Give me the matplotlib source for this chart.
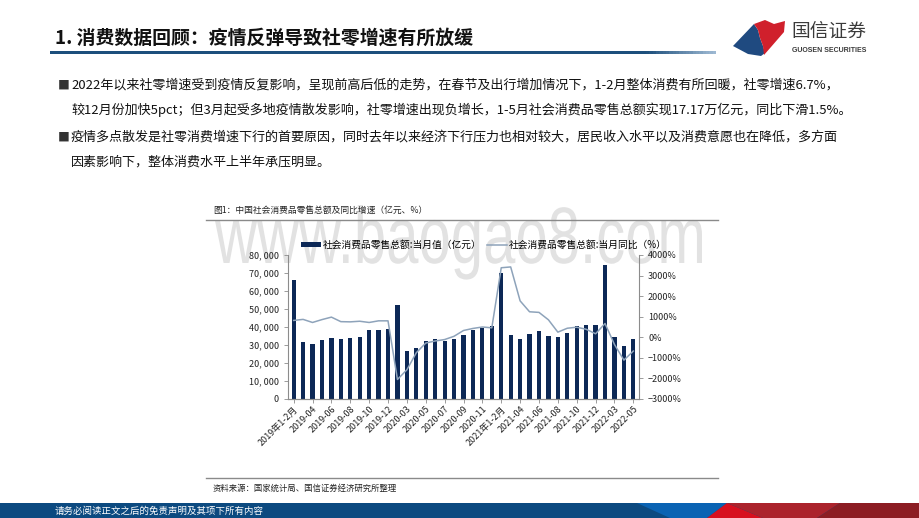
import numpy as np
import matplotlib
matplotlib.use('Agg')
import matplotlib.pyplot as plt
from matplotlib.patches import Polygon, Rectangle, PathPatch
from matplotlib.textpath import TextPath
from matplotlib.font_manager import FontProperties
from matplotlib.transforms import Affine2D
from matplotlib.ticker import FuncFormatter

plt.rcParams['font.family'] = ['Noto Sans CJK SC', 'DejaVu Sans']

# 月份（1-2月合并）
months = ['2019年1-2月'] + ['2019-%02d' % m for m in range(3, 13)] + \
         ['2020年1-2月'] + ['2020-%02d' % m for m in range(3, 13)] + \
         ['2021年1-2月'] + ['2021-%02d' % m for m in range(3, 13)] + \
         ['2022年1-2月', '2022-03', '2022-04', '2022-05']

# 社会消费品零售总额:当月值（亿元）
retail = [66064, 31726, 30586, 32956, 33878, 33073, 33896, 34495, 38104, 38094, 38777,
          52130, 26450, 28178, 31973, 33526, 32203, 33571, 35295, 38576, 39514, 40566,
          69737, 35484, 33153, 35945, 37586, 34925, 34395, 36833, 40454, 41043, 41269,
          74426, 34233, 29483, 33547]

# 社会消费品零售总额:当月同比（原图按 x100 的百分比刻度显示）
yoy = [8.2, 8.7, 7.2, 8.6, 9.8, 7.6, 7.5, 7.8, 7.2, 8.0, 8.0,
       -20.5, -15.8, -7.5, -2.8, -1.8, -1.1, 0.5, 3.3, 4.3, 5.0, 4.6,
       33.8, 34.2, 17.7, 12.4, 12.1, 8.5, 2.5, 4.4, 4.9, 3.9, 1.7,
       6.7, -3.5, -11.1, -6.7]

W, H = 920, 518
fig = plt.figure(figsize=(W / 100, H / 100), dpi=100)


def fx(x):
    return x / W


def fy(y):
    return 1 - y / H


# 标题 + 蓝色横线
fig.text(fx(55), fy(38), '1. 消费数据回顾：疫情反弹导致社零增速有所放缓',
         fontsize=13.6, fontweight='bold', color='#111111', va='center')
grad = np.linspace(0, 1, 200)[None, :]
gax = fig.add_axes([fx(50), fy(54), fx(716) - fx(50), 3.5 / H])
cmap = matplotlib.colors.LinearSegmentedColormap.from_list(
    'hdr', [(0, '#1d4f7c'), (0.9, '#1d4f7c'), (1.0, '#9db8d2')])
gax.imshow(grad, aspect='auto', cmap=cmap)
gax.axis('off')

# 国信证券 logo
blue = [(733, 46), (754, 24), (758, 30), (760, 38), (763, 46), (765, 53), (761, 56), (748, 54)]
red = [(754, 24), (765, 20), (774, 24), (785, 21), (784, 32), (771, 47), (764, 55),
       (763, 46), (760, 38), (758, 30)]
fig.add_artist(Polygon([(fx(a), fy(b)) for a, b in blue], closed=True,
                       transform=fig.transFigure, fc='#1f4a80', ec='none'))
fig.add_artist(Polygon([(fx(a), fy(b)) for a, b in red], closed=True,
                       transform=fig.transFigure, fc='#d0202c', ec='none'))
fig.text(fx(791), fy(31), '国信证券', fontsize=13.5, color='#3a3a3a', va='center')
fig.text(fx(792), fy(50), 'GUOSEN SECURITIES', fontsize=5, fontweight='bold',
         color='#3a3a3a', va='center', family=['Liberation Sans', 'DejaVu Sans'])

# 正文
body = [
    (85, True, '2022年以来社零增速受到疫情反复影响，呈现前高后低的走势，在春节及出行增加情况下，1-2月整体消费有所回暖，社零增速6.7%，'),
    (110, False, '较12月份加快5pct；但3月起受多地疫情散发影响，社零增速出现负增长，1-5月社会消费品零售总额实现17.17万亿元，同比下滑1.5%。'),
    (137, True, '疫情多点散发是社零消费增速下行的首要原因，同时去年以来经济下行压力也相对较大，居民收入水平以及消费意愿也在降低，多方面'),
    (162, False, '因素影响下，整体消费水平上半年承压明显。'),
]
for y, bullet, txt in body:
    if bullet:
        fig.text(fx(58), fy(y), '■', fontsize=8.5, color='#333333', va='center')
    fig.text(fx(71), fy(y), txt, fontsize=9.4, color='#111111', va='center')

# 水印
tp = TextPath((0, 0), 'www.baogao8.com', size=1,
              prop=FontProperties(family='Liberation Sans'))
ext = tp.get_extents()
sx = (702 - 215) / (ext.x1 - ext.x0)
tr = Affine2D().translate(-ext.x0, 0).scale(sx, 80).translate(215, H - 263) \
    .scale(1 / W, 1 / H) + fig.transFigure
fig.add_artist(PathPatch(tp, transform=tr, fc='#e2e2e2', ec='none', zorder=-1))

# 图表标题 & 来源
fig.text(fx(213), fy(210), '图1：中国社会消费品零售总额及同比增速（亿元、%）',
         fontsize=6.3, color='#222222', va='center')
for yy in (220, 478):
    fig.add_artist(plt.Line2D([fx(206), fx(718)], [fy(yy), fy(yy)],
                              transform=fig.transFigure, color='#8a8a8a', lw=1))
fig.text(fx(213), fy(488), '资料来源：国家统计局、国信证券经济研究所整理',
         fontsize=6, color='#222222', va='center')

# 主图
ax = fig.add_axes([fx(288), fy(399), fx(639) - fx(288), (399 - 255) / H])
ax.patch.set_alpha(0)
x = np.arange(len(months))
bars = ax.bar(x, retail, width=0.45, color='#0c2856',
              label='社会消费品零售总额:当月值（亿元）')
ax.set_xlim(-0.6, len(months) - 0.4)
ax.set_ylim(0, 80000)
ax.set_yticks(np.arange(0, 80001, 10000))
ax.yaxis.set_major_formatter(FuncFormatter(lambda v, p: f'{int(v):,}'.replace(',', ', ')))
ax.set_xticks(x[::2])
ax.set_xticklabels(months[::2], rotation=45, ha='right', rotation_mode='anchor')

ax2 = ax.twinx()
ax2.patch.set_alpha(0)
line, = ax2.plot(x, np.array(yoy) * 100, color='#8ea3ba', lw=1.1,
                 label='社会消费品零售总额:当月同比（%）')
ax2.set_ylim(-3000, 4000)
ax2.set_yticks(np.arange(-3000, 4001, 1000))
ax2.yaxis.set_major_formatter(FuncFormatter(lambda v, p: f'{int(v)}%'.replace('-', '−')))

for a in (ax, ax2):
    a.spines['top'].set_visible(False)
    for s in ('left', 'right', 'bottom'):
        a.spines[s].set_color('#8c8c8c')
        a.spines[s].set_linewidth(0.8)
    a.tick_params(axis='both', labelsize=6.5, colors='#8c8c8c', labelcolor='#222222',
                  length=3, width=0.6)
ax.tick_params(axis='x', pad=1)
ax2.spines['left'].set_visible(False)
ax.spines['right'].set_visible(False)

fig.legend(handles=[bars, line], loc='center', bbox_to_anchor=(fx(484), fy(245)),
           ncol=2, frameon=False, fontsize=7, handlelength=2.0, handleheight=0.3,
           columnspacing=0.6, handletextpad=0.2)

# 页脚
fig.add_artist(Rectangle((0, 0), 1, fy(503), transform=fig.transFigure,
                         fc='#0c4a80', ec='none'))
footer = [
    ([(637, 503), (727, 503), (707, 518), (670, 518)], '#0a63b3'),
    ([(727, 503), (707, 518), (763, 518)], '#d7101f'),
    ([(727, 503), (840, 503), (817, 518), (763, 518)], '#ab232c'),
    ([(840, 503), (920, 503), (920, 518), (817, 518)], '#8c1d23'),
]
for pts, c in footer:
    fig.add_artist(Polygon([(fx(a), fy(b)) for a, b in pts], closed=True,
                           transform=fig.transFigure, fc=c, ec='none'))
fig.text(fx(55), fy(511), '请务必阅读正文之后的免责声明及其项下所有内容',
         fontsize=6.8, color='white', va='center')

fig.savefig('out.png', dpi=100)
